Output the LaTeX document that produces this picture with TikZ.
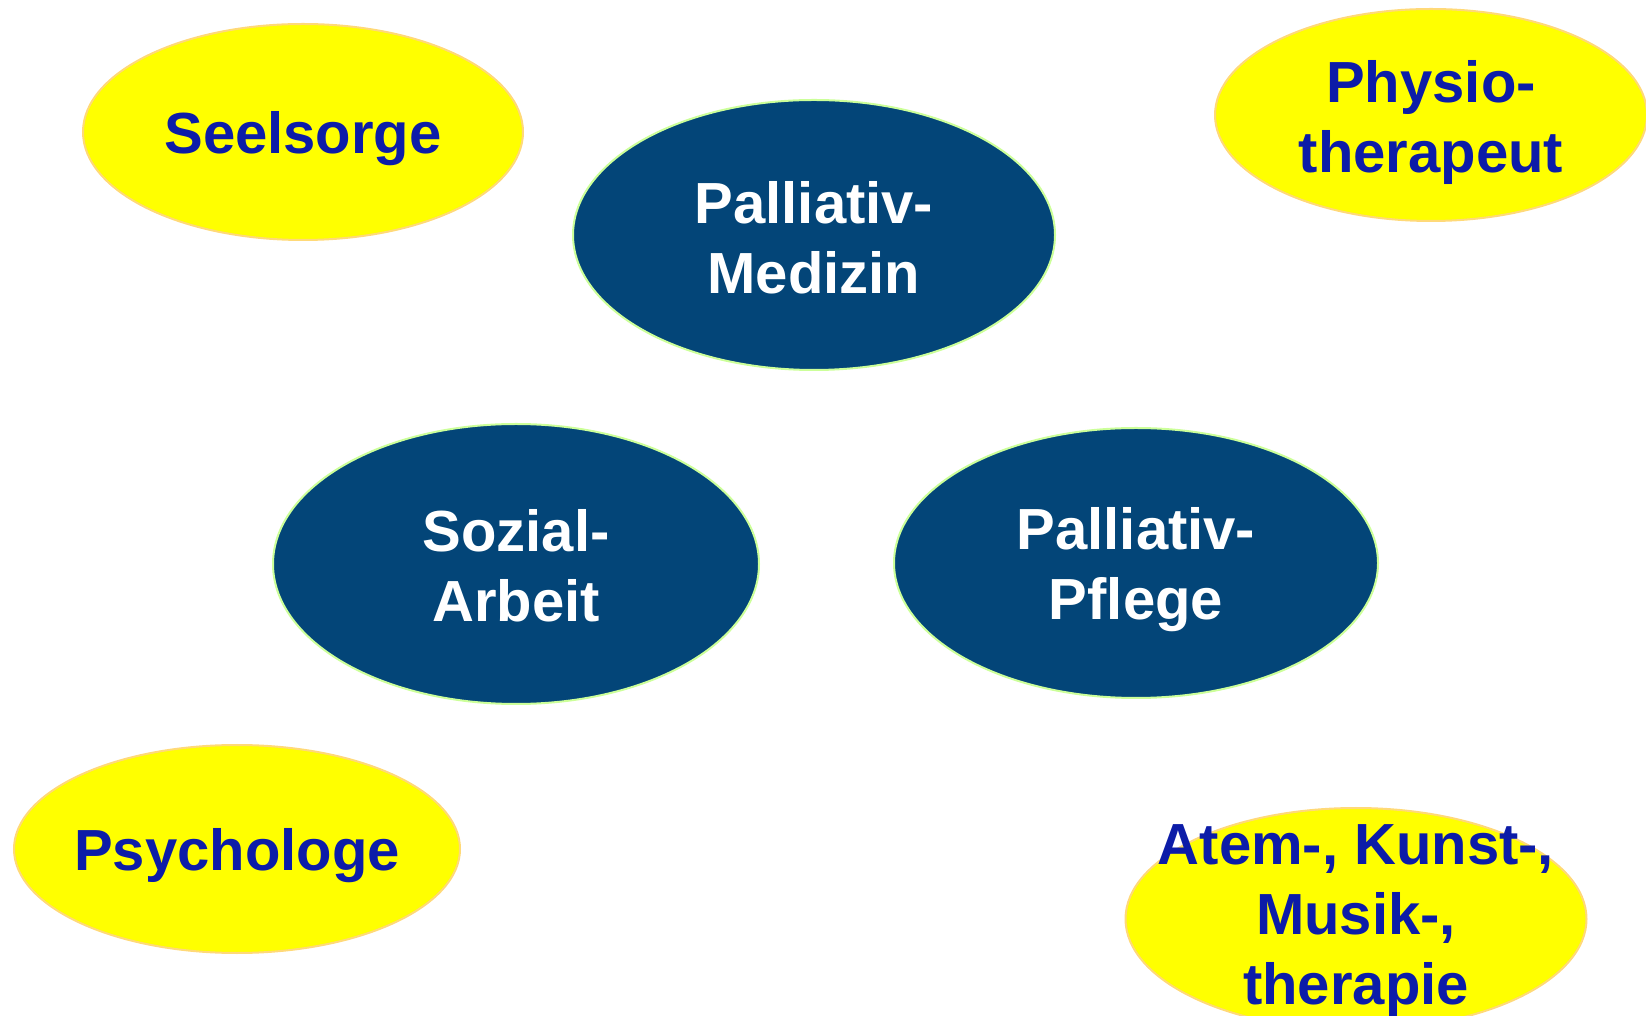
\documentclass[tikz,border=0pt]{standalone}
\usepackage{fontspec}
\setmainfont{Liberation Sans}
\usetikzlibrary{shapes.geometric}
\definecolor{teamcolor}{RGB}{3,69,120}
\definecolor{teamshade}{RGB}{204,255,153}
\definecolor{helpcolor}{RGB}{255,255,0}
\definecolor{helpshade}{RGB}{255,217,120}
\definecolor{helptext}{RGB}{12,28,168}

\begin{document}
\begin{tikzpicture}[x=1pt,y=1pt,
        team/.style={ellipse,draw=teamshade,fill=teamcolor,line width=2pt,inner sep=0pt},
        help/.style={ellipse,draw=helpshade,fill=helpcolor,line width=2pt,inner sep=0pt},
        teamtext/.style={white,align=center,font=\fontsize{58}{70}\selectfont\bfseries},
        helptxt/.style={helptext,align=center,font=\fontsize{58}{70}\selectfont\bfseries}]
        \useasboundingbox (0,0) rectangle (1646,1015);
        % draw outer ring
        \node[help,minimum width=440,minimum height=216] (seel) at (303,883) {};
        \node[helptxt,yshift=-7] (seel-text) at (seel) {Seelsorge};
        \node[help,minimum width=432,minimum height=212] (physio) at (1431,900) {};
        \node[helptxt,yshift=-8] (physio-text) at (physio) {Physio-\\therapeut};
        \node[help,minimum width=446,minimum height=208] (psycho) at (237,166) {};
        \node[helptxt,yshift=-7] (psycho-text) at (psycho) {Psychologe};
        \node[help,minimum width=461,minimum height=222] (atem) at (1356,96) {};
        \node[helptxt,yshift=-2] (atem-text) at (atem) {Atem-, Kunst-,\\Musik-,\\therapie};

        % draw core team
        \node[team,minimum width=482,minimum height=270] (medizin) at (814,780) {};
        \node[teamtext,yshift=-3] (medizin-text) at (medizin) {Palliativ-\\Medizin};
        \node[team,minimum width=486,minimum height=280] (sozial) at (516,451) {};
        \node[teamtext,yshift=-2] (sozial-text) at (sozial) {Sozial-\\Arbeit};
        \node[team,minimum width=484,minimum height=270] (pflege) at (1136,452) {};
        \node[teamtext,yshift=-7] (pflege-text) at (pflege) {Palliativ-\\Pflege};
    \end{tikzpicture}
\end{document}
